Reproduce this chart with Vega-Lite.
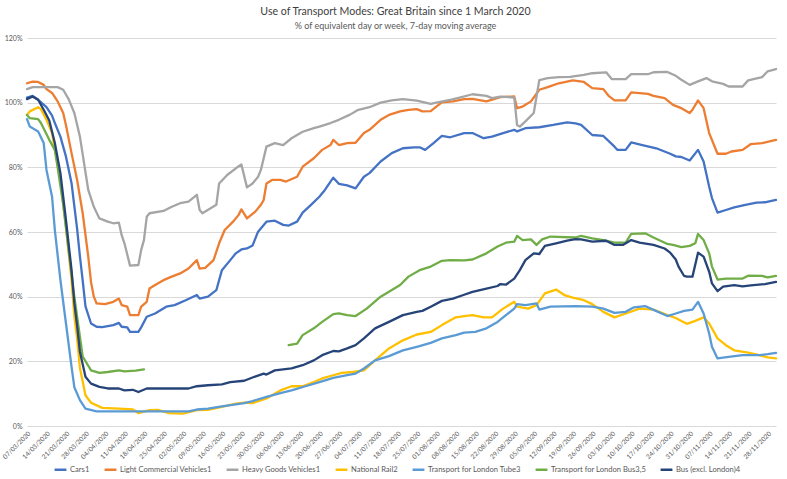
{
"$schema":"https://vega.github.io/schema/vega-lite/v6.json",
"width":749,"height":388,
"autosize":{"type":"none"},
"padding":{"left":27,"top":38,"right":11,"bottom":53},
"background":"white",
"title":{"text":"Use of  Transport Modes: Great Britain since 1 March 2020","subtitle":"% of equivalent day or week, 7-day moving average","anchor":"middle","font":"Lato","fontSize":10.6,"fontWeight":"normal","color":"#404040","subtitleFont":"Lato","subtitleFontSize":9,"subtitleColor":"#595959","subtitlePadding":4,"offset":3,"dx":-6},
"config":{"view":{"stroke":null}},
"data":{"values":[
{"mode":"Cars1","date":"2020-03-07","pct":101.6},{"mode":"Cars1","date":"2020-03-09","pct":102.1},{"mode":"Cars1","date":"2020-03-11","pct":100.9},{"mode":"Cars1","date":"2020-03-14","pct":98.6},{"mode":"Cars1","date":"2020-03-16","pct":96},{"mode":"Cars1","date":"2020-03-17","pct":93.7},{"mode":"Cars1","date":"2020-03-19","pct":89.5},{"mode":"Cars1","date":"2020-03-21","pct":83.3},{"mode":"Cars1","date":"2020-03-23","pct":75.1},{"mode":"Cars1","date":"2020-03-24","pct":68},{"mode":"Cars1","date":"2020-03-25","pct":61},{"mode":"Cars1","date":"2020-03-26","pct":52.5},{"mode":"Cars1","date":"2020-03-27","pct":45},{"mode":"Cars1","date":"2020-03-28","pct":37},{"mode":"Cars1","date":"2020-03-30","pct":31.7},{"mode":"Cars1","date":"2020-04-01","pct":30.7},{"mode":"Cars1","date":"2020-04-03","pct":30.6},{"mode":"Cars1","date":"2020-04-07","pct":31.2},{"mode":"Cars1","date":"2020-04-09","pct":31.9},{"mode":"Cars1","date":"2020-04-10","pct":30.7},{"mode":"Cars1","date":"2020-04-12","pct":30.5},{"mode":"Cars1","date":"2020-04-13","pct":29.1},{"mode":"Cars1","date":"2020-04-16","pct":29.1},{"mode":"Cars1","date":"2020-04-17","pct":30.5},{"mode":"Cars1","date":"2020-04-19","pct":33.8},{"mode":"Cars1","date":"2020-04-22","pct":34.8},{"mode":"Cars1","date":"2020-04-26","pct":36.9},{"mode":"Cars1","date":"2020-04-29","pct":37.4},{"mode":"Cars1","date":"2020-05-03","pct":38.9},{"mode":"Cars1","date":"2020-05-07","pct":40.5},{"mode":"Cars1","date":"2020-05-08","pct":39.4},{"mode":"Cars1","date":"2020-05-11","pct":40},{"mode":"Cars1","date":"2020-05-14","pct":42},{"mode":"Cars1","date":"2020-05-16","pct":48.2},{"mode":"Cars1","date":"2020-05-19","pct":51.3},{"mode":"Cars1","date":"2020-05-21","pct":53.4},{"mode":"Cars1","date":"2020-05-23","pct":54.6},{"mode":"Cars1","date":"2020-05-25","pct":54.9},{"mode":"Cars1","date":"2020-05-27","pct":55.8},{"mode":"Cars1","date":"2020-05-29","pct":60.1},{"mode":"Cars1","date":"2020-06-01","pct":63.2},{"mode":"Cars1","date":"2020-06-04","pct":63.5},{"mode":"Cars1","date":"2020-06-07","pct":62.2},{"mode":"Cars1","date":"2020-06-09","pct":62},{"mode":"Cars1","date":"2020-06-12","pct":63.2},{"mode":"Cars1","date":"2020-06-14","pct":66},{"mode":"Cars1","date":"2020-06-17","pct":68.4},{"mode":"Cars1","date":"2020-06-20","pct":70.9},{"mode":"Cars1","date":"2020-06-22","pct":73},{"mode":"Cars1","date":"2020-06-24","pct":75.6},{"mode":"Cars1","date":"2020-06-25","pct":76.8},{"mode":"Cars1","date":"2020-06-27","pct":74.9},{"mode":"Cars1","date":"2020-06-30","pct":74.4},{"mode":"Cars1","date":"2020-07-03","pct":73.5},{"mode":"Cars1","date":"2020-07-06","pct":77.1},{"mode":"Cars1","date":"2020-07-08","pct":78.2},{"mode":"Cars1","date":"2020-07-12","pct":81.8},{"mode":"Cars1","date":"2020-07-16","pct":84.4},{"mode":"Cars1","date":"2020-07-20","pct":85.9},{"mode":"Cars1","date":"2020-07-24","pct":86.2},{"mode":"Cars1","date":"2020-07-26","pct":86.2},{"mode":"Cars1","date":"2020-07-28","pct":85.4},{"mode":"Cars1","date":"2020-07-31","pct":87.5},{"mode":"Cars1","date":"2020-08-03","pct":89.7},{"mode":"Cars1","date":"2020-08-06","pct":89.3},{"mode":"Cars1","date":"2020-08-11","pct":90.6},{"mode":"Cars1","date":"2020-08-14","pct":90.6},{"mode":"Cars1","date":"2020-08-18","pct":89},{"mode":"Cars1","date":"2020-08-21","pct":89.5},{"mode":"Cars1","date":"2020-08-25","pct":90.6},{"mode":"Cars1","date":"2020-08-29","pct":91.6},{"mode":"Cars1","date":"2020-08-30","pct":91.1},{"mode":"Cars1","date":"2020-09-02","pct":92.1},{"mode":"Cars1","date":"2020-09-07","pct":92.4},{"mode":"Cars1","date":"2020-09-12","pct":93.1},{"mode":"Cars1","date":"2020-09-17","pct":93.9},{"mode":"Cars1","date":"2020-09-20","pct":93.6},{"mode":"Cars1","date":"2020-09-22","pct":93.1},{"mode":"Cars1","date":"2020-09-26","pct":90},{"mode":"Cars1","date":"2020-09-30","pct":89.7},{"mode":"Cars1","date":"2020-10-04","pct":86.4},{"mode":"Cars1","date":"2020-10-05","pct":85.4},{"mode":"Cars1","date":"2020-10-08","pct":85.4},{"mode":"Cars1","date":"2020-10-10","pct":87.7},{"mode":"Cars1","date":"2020-10-14","pct":86.9},{"mode":"Cars1","date":"2020-10-19","pct":85.9},{"mode":"Cars1","date":"2020-10-24","pct":84.2},{"mode":"Cars1","date":"2020-10-26","pct":83.4},{"mode":"Cars1","date":"2020-10-28","pct":83.2},{"mode":"Cars1","date":"2020-10-31","pct":82.1},{"mode":"Cars1","date":"2020-11-03","pct":85.4},{"mode":"Cars1","date":"2020-11-05","pct":81.8},{"mode":"Cars1","date":"2020-11-07","pct":74},{"mode":"Cars1","date":"2020-11-08","pct":70.5},{"mode":"Cars1","date":"2020-11-10","pct":66},{"mode":"Cars1","date":"2020-11-13","pct":66.8},{"mode":"Cars1","date":"2020-11-16","pct":67.6},{"mode":"Cars1","date":"2020-11-20","pct":68.4},{"mode":"Cars1","date":"2020-11-24","pct":69.1},{"mode":"Cars1","date":"2020-11-27","pct":69.2},{"mode":"Cars1","date":"2020-12-01","pct":69.9},
{"mode":"Light Commercial Vehicles1","date":"2020-03-07","pct":106},{"mode":"Light Commercial Vehicles1","date":"2020-03-09","pct":106.5},{"mode":"Light Commercial Vehicles1","date":"2020-03-11","pct":106.4},{"mode":"Light Commercial Vehicles1","date":"2020-03-13","pct":105.5},{"mode":"Light Commercial Vehicles1","date":"2020-03-14","pct":104.2},{"mode":"Light Commercial Vehicles1","date":"2020-03-16","pct":103},{"mode":"Light Commercial Vehicles1","date":"2020-03-18","pct":100.4},{"mode":"Light Commercial Vehicles1","date":"2020-03-20","pct":96.8},{"mode":"Light Commercial Vehicles1","date":"2020-03-21","pct":93},{"mode":"Light Commercial Vehicles1","date":"2020-03-23","pct":84.4},{"mode":"Light Commercial Vehicles1","date":"2020-03-25","pct":76.1},{"mode":"Light Commercial Vehicles1","date":"2020-03-27","pct":65.8},{"mode":"Light Commercial Vehicles1","date":"2020-03-29","pct":52.4},{"mode":"Light Commercial Vehicles1","date":"2020-03-30","pct":44.5},{"mode":"Light Commercial Vehicles1","date":"2020-03-31","pct":40},{"mode":"Light Commercial Vehicles1","date":"2020-04-01","pct":37.9},{"mode":"Light Commercial Vehicles1","date":"2020-04-04","pct":37.7},{"mode":"Light Commercial Vehicles1","date":"2020-04-07","pct":38.4},{"mode":"Light Commercial Vehicles1","date":"2020-04-09","pct":39.4},{"mode":"Light Commercial Vehicles1","date":"2020-04-10","pct":37.4},{"mode":"Light Commercial Vehicles1","date":"2020-04-12","pct":36.9},{"mode":"Light Commercial Vehicles1","date":"2020-04-13","pct":34.3},{"mode":"Light Commercial Vehicles1","date":"2020-04-16","pct":34.3},{"mode":"Light Commercial Vehicles1","date":"2020-04-17","pct":36.9},{"mode":"Light Commercial Vehicles1","date":"2020-04-19","pct":38.4},{"mode":"Light Commercial Vehicles1","date":"2020-04-20","pct":42.5},{"mode":"Light Commercial Vehicles1","date":"2020-04-22","pct":43.6},{"mode":"Light Commercial Vehicles1","date":"2020-04-25","pct":45.1},{"mode":"Light Commercial Vehicles1","date":"2020-04-28","pct":46.2},{"mode":"Light Commercial Vehicles1","date":"2020-05-01","pct":47.2},{"mode":"Light Commercial Vehicles1","date":"2020-05-04","pct":48.7},{"mode":"Light Commercial Vehicles1","date":"2020-05-07","pct":51.3},{"mode":"Light Commercial Vehicles1","date":"2020-05-08","pct":48.7},{"mode":"Light Commercial Vehicles1","date":"2020-05-10","pct":48.9},{"mode":"Light Commercial Vehicles1","date":"2020-05-13","pct":51.3},{"mode":"Light Commercial Vehicles1","date":"2020-05-15","pct":56.5},{"mode":"Light Commercial Vehicles1","date":"2020-05-17","pct":60.6},{"mode":"Light Commercial Vehicles1","date":"2020-05-20","pct":63.2},{"mode":"Light Commercial Vehicles1","date":"2020-05-22","pct":65.3},{"mode":"Light Commercial Vehicles1","date":"2020-05-23","pct":67},{"mode":"Light Commercial Vehicles1","date":"2020-05-25","pct":64.2},{"mode":"Light Commercial Vehicles1","date":"2020-05-28","pct":66.3},{"mode":"Light Commercial Vehicles1","date":"2020-05-30","pct":68.4},{"mode":"Light Commercial Vehicles1","date":"2020-05-31","pct":69.9},{"mode":"Light Commercial Vehicles1","date":"2020-06-01","pct":75},{"mode":"Light Commercial Vehicles1","date":"2020-06-03","pct":76.1},{"mode":"Light Commercial Vehicles1","date":"2020-06-06","pct":76.1},{"mode":"Light Commercial Vehicles1","date":"2020-06-08","pct":75.6},{"mode":"Light Commercial Vehicles1","date":"2020-06-12","pct":77.1},{"mode":"Light Commercial Vehicles1","date":"2020-06-14","pct":80.2},{"mode":"Light Commercial Vehicles1","date":"2020-06-18","pct":82.8},{"mode":"Light Commercial Vehicles1","date":"2020-06-21","pct":85.4},{"mode":"Light Commercial Vehicles1","date":"2020-06-24","pct":86.9},{"mode":"Light Commercial Vehicles1","date":"2020-06-25","pct":88.5},{"mode":"Light Commercial Vehicles1","date":"2020-06-27","pct":86.9},{"mode":"Light Commercial Vehicles1","date":"2020-06-30","pct":87.5},{"mode":"Light Commercial Vehicles1","date":"2020-07-03","pct":87.6},{"mode":"Light Commercial Vehicles1","date":"2020-07-06","pct":90.6},{"mode":"Light Commercial Vehicles1","date":"2020-07-08","pct":91.6},{"mode":"Light Commercial Vehicles1","date":"2020-07-12","pct":94.7},{"mode":"Light Commercial Vehicles1","date":"2020-07-15","pct":96.2},{"mode":"Light Commercial Vehicles1","date":"2020-07-19","pct":97.3},{"mode":"Light Commercial Vehicles1","date":"2020-07-22","pct":97.8},{"mode":"Light Commercial Vehicles1","date":"2020-07-25","pct":98},{"mode":"Light Commercial Vehicles1","date":"2020-07-27","pct":97.3},{"mode":"Light Commercial Vehicles1","date":"2020-07-30","pct":97.4},{"mode":"Light Commercial Vehicles1","date":"2020-08-01","pct":98.8},{"mode":"Light Commercial Vehicles1","date":"2020-08-03","pct":100.1},{"mode":"Light Commercial Vehicles1","date":"2020-08-07","pct":100.4},{"mode":"Light Commercial Vehicles1","date":"2020-08-11","pct":101.1},{"mode":"Light Commercial Vehicles1","date":"2020-08-14","pct":101.2},{"mode":"Light Commercial Vehicles1","date":"2020-08-19","pct":100.4},{"mode":"Light Commercial Vehicles1","date":"2020-08-24","pct":101.7},{"mode":"Light Commercial Vehicles1","date":"2020-08-29","pct":101.9},{"mode":"Light Commercial Vehicles1","date":"2020-08-30","pct":98.3},{"mode":"Light Commercial Vehicles1","date":"2020-09-01","pct":98.8},{"mode":"Light Commercial Vehicles1","date":"2020-09-04","pct":100.4},{"mode":"Light Commercial Vehicles1","date":"2020-09-07","pct":104},{"mode":"Light Commercial Vehicles1","date":"2020-09-10","pct":104.8},{"mode":"Light Commercial Vehicles1","date":"2020-09-14","pct":106},{"mode":"Light Commercial Vehicles1","date":"2020-09-19","pct":106.9},{"mode":"Light Commercial Vehicles1","date":"2020-09-23","pct":106.4},{"mode":"Light Commercial Vehicles1","date":"2020-09-26","pct":104.5},{"mode":"Light Commercial Vehicles1","date":"2020-09-30","pct":104.2},{"mode":"Light Commercial Vehicles1","date":"2020-10-02","pct":102},{"mode":"Light Commercial Vehicles1","date":"2020-10-04","pct":100.7},{"mode":"Light Commercial Vehicles1","date":"2020-10-08","pct":100.7},{"mode":"Light Commercial Vehicles1","date":"2020-10-10","pct":103.2},{"mode":"Light Commercial Vehicles1","date":"2020-10-16","pct":102.7},{"mode":"Light Commercial Vehicles1","date":"2020-10-18","pct":102.1},{"mode":"Light Commercial Vehicles1","date":"2020-10-22","pct":101.4},{"mode":"Light Commercial Vehicles1","date":"2020-10-25","pct":99.3},{"mode":"Light Commercial Vehicles1","date":"2020-10-28","pct":98.3},{"mode":"Light Commercial Vehicles1","date":"2020-10-31","pct":96.8},{"mode":"Light Commercial Vehicles1","date":"2020-11-01","pct":97.8},{"mode":"Light Commercial Vehicles1","date":"2020-11-03","pct":100.7},{"mode":"Light Commercial Vehicles1","date":"2020-11-05","pct":98.3},{"mode":"Light Commercial Vehicles1","date":"2020-11-07","pct":90.6},{"mode":"Light Commercial Vehicles1","date":"2020-11-10","pct":84.2},{"mode":"Light Commercial Vehicles1","date":"2020-11-13","pct":84.2},{"mode":"Light Commercial Vehicles1","date":"2020-11-15","pct":84.9},{"mode":"Light Commercial Vehicles1","date":"2020-11-19","pct":85.4},{"mode":"Light Commercial Vehicles1","date":"2020-11-22","pct":87.2},{"mode":"Light Commercial Vehicles1","date":"2020-11-26","pct":87.5},{"mode":"Light Commercial Vehicles1","date":"2020-12-01","pct":88.5},
{"mode":"Heavy Goods Vehicles1","date":"2020-03-07","pct":104.2},{"mode":"Heavy Goods Vehicles1","date":"2020-03-09","pct":104.8},{"mode":"Heavy Goods Vehicles1","date":"2020-03-18","pct":104.8},{"mode":"Heavy Goods Vehicles1","date":"2020-03-20","pct":104},{"mode":"Heavy Goods Vehicles1","date":"2020-03-22","pct":101},{"mode":"Heavy Goods Vehicles1","date":"2020-03-24","pct":96.8},{"mode":"Heavy Goods Vehicles1","date":"2020-03-26","pct":89.5},{"mode":"Heavy Goods Vehicles1","date":"2020-03-27","pct":84},{"mode":"Heavy Goods Vehicles1","date":"2020-03-29","pct":73},{"mode":"Heavy Goods Vehicles1","date":"2020-03-31","pct":67.8},{"mode":"Heavy Goods Vehicles1","date":"2020-04-02","pct":64.2},{"mode":"Heavy Goods Vehicles1","date":"2020-04-05","pct":63.2},{"mode":"Heavy Goods Vehicles1","date":"2020-04-07","pct":62.7},{"mode":"Heavy Goods Vehicles1","date":"2020-04-09","pct":62.9},{"mode":"Heavy Goods Vehicles1","date":"2020-04-10","pct":59},{"mode":"Heavy Goods Vehicles1","date":"2020-04-11","pct":56.5},{"mode":"Heavy Goods Vehicles1","date":"2020-04-13","pct":49.6},{"mode":"Heavy Goods Vehicles1","date":"2020-04-16","pct":49.8},{"mode":"Heavy Goods Vehicles1","date":"2020-04-17","pct":54.4},{"mode":"Heavy Goods Vehicles1","date":"2020-04-18","pct":57.5},{"mode":"Heavy Goods Vehicles1","date":"2020-04-19","pct":64.7},{"mode":"Heavy Goods Vehicles1","date":"2020-04-20","pct":65.8},{"mode":"Heavy Goods Vehicles1","date":"2020-04-25","pct":66.5},{"mode":"Heavy Goods Vehicles1","date":"2020-04-28","pct":67.8},{"mode":"Heavy Goods Vehicles1","date":"2020-05-01","pct":68.9},{"mode":"Heavy Goods Vehicles1","date":"2020-05-04","pct":69.4},{"mode":"Heavy Goods Vehicles1","date":"2020-05-07","pct":71.5},{"mode":"Heavy Goods Vehicles1","date":"2020-05-08","pct":66.8},{"mode":"Heavy Goods Vehicles1","date":"2020-05-09","pct":65.8},{"mode":"Heavy Goods Vehicles1","date":"2020-05-14","pct":68.4},{"mode":"Heavy Goods Vehicles1","date":"2020-05-15","pct":75},{"mode":"Heavy Goods Vehicles1","date":"2020-05-18","pct":77.7},{"mode":"Heavy Goods Vehicles1","date":"2020-05-21","pct":79.7},{"mode":"Heavy Goods Vehicles1","date":"2020-05-23","pct":80.9},{"mode":"Heavy Goods Vehicles1","date":"2020-05-25","pct":73.8},{"mode":"Heavy Goods Vehicles1","date":"2020-05-27","pct":75},{"mode":"Heavy Goods Vehicles1","date":"2020-05-29","pct":77.1},{"mode":"Heavy Goods Vehicles1","date":"2020-05-30","pct":79.2},{"mode":"Heavy Goods Vehicles1","date":"2020-06-01","pct":86.4},{"mode":"Heavy Goods Vehicles1","date":"2020-06-04","pct":87.5},{"mode":"Heavy Goods Vehicles1","date":"2020-06-07","pct":86.9},{"mode":"Heavy Goods Vehicles1","date":"2020-06-10","pct":89},{"mode":"Heavy Goods Vehicles1","date":"2020-06-14","pct":91},{"mode":"Heavy Goods Vehicles1","date":"2020-06-18","pct":92.1},{"mode":"Heavy Goods Vehicles1","date":"2020-06-20","pct":92.6},{"mode":"Heavy Goods Vehicles1","date":"2020-06-24","pct":93.7},{"mode":"Heavy Goods Vehicles1","date":"2020-06-27","pct":94.7},{"mode":"Heavy Goods Vehicles1","date":"2020-07-01","pct":96.3},{"mode":"Heavy Goods Vehicles1","date":"2020-07-04","pct":97.8},{"mode":"Heavy Goods Vehicles1","date":"2020-07-08","pct":98.6},{"mode":"Heavy Goods Vehicles1","date":"2020-07-12","pct":100},{"mode":"Heavy Goods Vehicles1","date":"2020-07-16","pct":100.7},{"mode":"Heavy Goods Vehicles1","date":"2020-07-20","pct":101.1},{"mode":"Heavy Goods Vehicles1","date":"2020-07-25","pct":100.6},{"mode":"Heavy Goods Vehicles1","date":"2020-07-30","pct":99.6},{"mode":"Heavy Goods Vehicles1","date":"2020-08-01","pct":100},{"mode":"Heavy Goods Vehicles1","date":"2020-08-06","pct":100.9},{"mode":"Heavy Goods Vehicles1","date":"2020-08-09","pct":101.5},{"mode":"Heavy Goods Vehicles1","date":"2020-08-14","pct":102.6},{"mode":"Heavy Goods Vehicles1","date":"2020-08-19","pct":102.1},{"mode":"Heavy Goods Vehicles1","date":"2020-08-21","pct":101.4},{"mode":"Heavy Goods Vehicles1","date":"2020-08-24","pct":101.9},{"mode":"Heavy Goods Vehicles1","date":"2020-08-29","pct":101.6},{"mode":"Heavy Goods Vehicles1","date":"2020-08-30","pct":93.1},{"mode":"Heavy Goods Vehicles1","date":"2020-08-31","pct":92.6},{"mode":"Heavy Goods Vehicles1","date":"2020-09-02","pct":94.2},{"mode":"Heavy Goods Vehicles1","date":"2020-09-05","pct":96.8},{"mode":"Heavy Goods Vehicles1","date":"2020-09-06","pct":101.9},{"mode":"Heavy Goods Vehicles1","date":"2020-09-07","pct":107},{"mode":"Heavy Goods Vehicles1","date":"2020-09-10","pct":107.6},{"mode":"Heavy Goods Vehicles1","date":"2020-09-14","pct":107.9},{"mode":"Heavy Goods Vehicles1","date":"2020-09-18","pct":108},{"mode":"Heavy Goods Vehicles1","date":"2020-09-23","pct":108.6},{"mode":"Heavy Goods Vehicles1","date":"2020-09-26","pct":109.1},{"mode":"Heavy Goods Vehicles1","date":"2020-10-01","pct":109.4},{"mode":"Heavy Goods Vehicles1","date":"2020-10-03","pct":107.3},{"mode":"Heavy Goods Vehicles1","date":"2020-10-08","pct":107.3},{"mode":"Heavy Goods Vehicles1","date":"2020-10-10","pct":108.8},{"mode":"Heavy Goods Vehicles1","date":"2020-10-16","pct":108.8},{"mode":"Heavy Goods Vehicles1","date":"2020-10-18","pct":109.4},{"mode":"Heavy Goods Vehicles1","date":"2020-10-23","pct":109.5},{"mode":"Heavy Goods Vehicles1","date":"2020-10-26","pct":108.3},{"mode":"Heavy Goods Vehicles1","date":"2020-10-28","pct":107.1},{"mode":"Heavy Goods Vehicles1","date":"2020-10-31","pct":105.5},{"mode":"Heavy Goods Vehicles1","date":"2020-11-03","pct":106.6},{"mode":"Heavy Goods Vehicles1","date":"2020-11-06","pct":107.6},{"mode":"Heavy Goods Vehicles1","date":"2020-11-08","pct":106.6},{"mode":"Heavy Goods Vehicles1","date":"2020-11-12","pct":105.8},{"mode":"Heavy Goods Vehicles1","date":"2020-11-14","pct":105},{"mode":"Heavy Goods Vehicles1","date":"2020-11-19","pct":105},{"mode":"Heavy Goods Vehicles1","date":"2020-11-21","pct":106.9},{"mode":"Heavy Goods Vehicles1","date":"2020-11-26","pct":107.9},{"mode":"Heavy Goods Vehicles1","date":"2020-11-28","pct":109.7},{"mode":"Heavy Goods Vehicles1","date":"2020-12-01","pct":110.4},
{"mode":"National Rail2","date":"2020-03-07","pct":96.2},{"mode":"National Rail2","date":"2020-03-08","pct":97.3},{"mode":"National Rail2","date":"2020-03-11","pct":98.6},{"mode":"National Rail2","date":"2020-03-12","pct":98},{"mode":"National Rail2","date":"2020-03-14","pct":94.7},{"mode":"National Rail2","date":"2020-03-16","pct":90.6},{"mode":"National Rail2","date":"2020-03-17","pct":85.4},{"mode":"National Rail2","date":"2020-03-19","pct":76.1},{"mode":"National Rail2","date":"2020-03-21","pct":61.6},{"mode":"National Rail2","date":"2020-03-23","pct":45.1},{"mode":"National Rail2","date":"2020-03-24","pct":34},{"mode":"National Rail2","date":"2020-03-25","pct":27},{"mode":"National Rail2","date":"2020-03-26","pct":18},{"mode":"National Rail2","date":"2020-03-28","pct":9.5},{"mode":"National Rail2","date":"2020-03-30","pct":7.2},{"mode":"National Rail2","date":"2020-04-03","pct":5.6},{"mode":"National Rail2","date":"2020-04-09","pct":5.4},{"mode":"National Rail2","date":"2020-04-14","pct":5.1},{"mode":"National Rail2","date":"2020-04-16","pct":4},{"mode":"National Rail2","date":"2020-04-20","pct":4.9},{"mode":"National Rail2","date":"2020-04-23","pct":5},{"mode":"National Rail2","date":"2020-04-27","pct":4},{"mode":"National Rail2","date":"2020-05-02","pct":3.8},{"mode":"National Rail2","date":"2020-05-07","pct":4.9},{"mode":"National Rail2","date":"2020-05-11","pct":5},{"mode":"National Rail2","date":"2020-05-16","pct":5.9},{"mode":"National Rail2","date":"2020-05-21","pct":6.9},{"mode":"National Rail2","date":"2020-05-24","pct":7.2},{"mode":"National Rail2","date":"2020-05-27","pct":7.1},{"mode":"National Rail2","date":"2020-06-01","pct":8.5},{"mode":"National Rail2","date":"2020-06-06","pct":11},{"mode":"National Rail2","date":"2020-06-10","pct":12.3},{"mode":"National Rail2","date":"2020-06-14","pct":12.3},{"mode":"National Rail2","date":"2020-06-18","pct":13.6},{"mode":"National Rail2","date":"2020-06-21","pct":14.7},{"mode":"National Rail2","date":"2020-06-25","pct":15.7},{"mode":"National Rail2","date":"2020-06-28","pct":16.4},{"mode":"National Rail2","date":"2020-07-02","pct":16.7},{"mode":"National Rail2","date":"2020-07-06","pct":17.2},{"mode":"National Rail2","date":"2020-07-10","pct":20.3},{"mode":"National Rail2","date":"2020-07-15","pct":24},{"mode":"National Rail2","date":"2020-07-20","pct":26.5},{"mode":"National Rail2","date":"2020-07-25","pct":28.3},{"mode":"National Rail2","date":"2020-07-30","pct":29.1},{"mode":"National Rail2","date":"2020-08-03","pct":31.2},{"mode":"National Rail2","date":"2020-08-08","pct":33.6},{"mode":"National Rail2","date":"2020-08-11","pct":34},{"mode":"National Rail2","date":"2020-08-14","pct":34.3},{"mode":"National Rail2","date":"2020-08-18","pct":33.6},{"mode":"National Rail2","date":"2020-08-21","pct":33.6},{"mode":"National Rail2","date":"2020-08-25","pct":36.3},{"mode":"National Rail2","date":"2020-08-29","pct":38.4},{"mode":"National Rail2","date":"2020-08-30","pct":36.9},{"mode":"National Rail2","date":"2020-09-03","pct":36.3},{"mode":"National Rail2","date":"2020-09-06","pct":37.4},{"mode":"National Rail2","date":"2020-09-09","pct":41},{"mode":"National Rail2","date":"2020-09-13","pct":42.2},{"mode":"National Rail2","date":"2020-09-16","pct":40.5},{"mode":"National Rail2","date":"2020-09-19","pct":39.7},{"mode":"National Rail2","date":"2020-09-23","pct":38.9},{"mode":"National Rail2","date":"2020-09-26","pct":37.7},{"mode":"National Rail2","date":"2020-09-30","pct":35.3},{"mode":"National Rail2","date":"2020-10-04","pct":33.6},{"mode":"National Rail2","date":"2020-10-08","pct":34.8},{"mode":"National Rail2","date":"2020-10-13","pct":36.3},{"mode":"National Rail2","date":"2020-10-18","pct":36},{"mode":"National Rail2","date":"2020-10-23","pct":34.3},{"mode":"National Rail2","date":"2020-10-26","pct":33.4},{"mode":"National Rail2","date":"2020-10-28","pct":32.5},{"mode":"National Rail2","date":"2020-10-30","pct":31.6},{"mode":"National Rail2","date":"2020-11-02","pct":32.5},{"mode":"National Rail2","date":"2020-11-05","pct":33.6},{"mode":"National Rail2","date":"2020-11-07","pct":31.7},{"mode":"National Rail2","date":"2020-11-10","pct":27.1},{"mode":"National Rail2","date":"2020-11-13","pct":25},{"mode":"National Rail2","date":"2020-11-16","pct":23.4},{"mode":"National Rail2","date":"2020-11-21","pct":22.7},{"mode":"National Rail2","date":"2020-11-25","pct":21.9},{"mode":"National Rail2","date":"2020-11-28","pct":21.2},{"mode":"National Rail2","date":"2020-12-01","pct":20.9},
{"mode":"Transport for London Tube3","date":"2020-03-07","pct":94.9},{"mode":"Transport for London Tube3","date":"2020-03-08","pct":92.6},{"mode":"Transport for London Tube3","date":"2020-03-11","pct":91.1},{"mode":"Transport for London Tube3","date":"2020-03-13","pct":87.5},{"mode":"Transport for London Tube3","date":"2020-03-14","pct":79.2},{"mode":"Transport for London Tube3","date":"2020-03-16","pct":70.9},{"mode":"Transport for London Tube3","date":"2020-03-17","pct":60.6},{"mode":"Transport for London Tube3","date":"2020-03-19","pct":45.1},{"mode":"Transport for London Tube3","date":"2020-03-21","pct":31.7},{"mode":"Transport for London Tube3","date":"2020-03-23","pct":18.3},{"mode":"Transport for London Tube3","date":"2020-03-24","pct":12},{"mode":"Transport for London Tube3","date":"2020-03-26","pct":8},{"mode":"Transport for London Tube3","date":"2020-03-28","pct":5.4},{"mode":"Transport for London Tube3","date":"2020-04-01","pct":4.5},{"mode":"Transport for London Tube3","date":"2020-05-04","pct":4.5},{"mode":"Transport for London Tube3","date":"2020-05-07","pct":5.1},{"mode":"Transport for London Tube3","date":"2020-05-11","pct":5.4},{"mode":"Transport for London Tube3","date":"2020-05-16","pct":6.1},{"mode":"Transport for London Tube3","date":"2020-05-21","pct":6.7},{"mode":"Transport for London Tube3","date":"2020-05-24","pct":7.1},{"mode":"Transport for London Tube3","date":"2020-05-27","pct":7.7},{"mode":"Transport for London Tube3","date":"2020-06-01","pct":9},{"mode":"Transport for London Tube3","date":"2020-06-06","pct":10.2},{"mode":"Transport for London Tube3","date":"2020-06-10","pct":11},{"mode":"Transport for London Tube3","date":"2020-06-15","pct":12.3},{"mode":"Transport for London Tube3","date":"2020-06-20","pct":13.6},{"mode":"Transport for London Tube3","date":"2020-06-25","pct":14.9},{"mode":"Transport for London Tube3","date":"2020-06-30","pct":15.7},{"mode":"Transport for London Tube3","date":"2020-07-03","pct":16.2},{"mode":"Transport for London Tube3","date":"2020-07-06","pct":17.8},{"mode":"Transport for London Tube3","date":"2020-07-10","pct":20.3},{"mode":"Transport for London Tube3","date":"2020-07-15","pct":21.6},{"mode":"Transport for London Tube3","date":"2020-07-20","pct":23.4},{"mode":"Transport for London Tube3","date":"2020-07-25","pct":24.5},{"mode":"Transport for London Tube3","date":"2020-07-30","pct":25.7},{"mode":"Transport for London Tube3","date":"2020-08-03","pct":27.1},{"mode":"Transport for London Tube3","date":"2020-08-08","pct":28.1},{"mode":"Transport for London Tube3","date":"2020-08-11","pct":28.9},{"mode":"Transport for London Tube3","date":"2020-08-15","pct":29.1},{"mode":"Transport for London Tube3","date":"2020-08-19","pct":30.2},{"mode":"Transport for London Tube3","date":"2020-08-23","pct":32.2},{"mode":"Transport for London Tube3","date":"2020-08-26","pct":34.3},{"mode":"Transport for London Tube3","date":"2020-08-29","pct":36.3},{"mode":"Transport for London Tube3","date":"2020-08-30","pct":37.7},{"mode":"Transport for London Tube3","date":"2020-09-02","pct":37.4},{"mode":"Transport for London Tube3","date":"2020-09-06","pct":37.9},{"mode":"Transport for London Tube3","date":"2020-09-07","pct":36},{"mode":"Transport for London Tube3","date":"2020-09-11","pct":36.9},{"mode":"Transport for London Tube3","date":"2020-09-20","pct":37.1},{"mode":"Transport for London Tube3","date":"2020-09-26","pct":36.9},{"mode":"Transport for London Tube3","date":"2020-09-30","pct":36.3},{"mode":"Transport for London Tube3","date":"2020-10-04","pct":35},{"mode":"Transport for London Tube3","date":"2020-10-08","pct":35.3},{"mode":"Transport for London Tube3","date":"2020-10-11","pct":36.7},{"mode":"Transport for London Tube3","date":"2020-10-15","pct":37.1},{"mode":"Transport for London Tube3","date":"2020-10-17","pct":36.3},{"mode":"Transport for London Tube3","date":"2020-10-23","pct":34},{"mode":"Transport for London Tube3","date":"2020-10-26","pct":34.8},{"mode":"Transport for London Tube3","date":"2020-10-29","pct":35.6},{"mode":"Transport for London Tube3","date":"2020-11-01","pct":36},{"mode":"Transport for London Tube3","date":"2020-11-03","pct":38.4},{"mode":"Transport for London Tube3","date":"2020-11-05","pct":34.8},{"mode":"Transport for London Tube3","date":"2020-11-07","pct":28.6},{"mode":"Transport for London Tube3","date":"2020-11-08","pct":24.5},{"mode":"Transport for London Tube3","date":"2020-11-10","pct":20.9},{"mode":"Transport for London Tube3","date":"2020-11-14","pct":21.4},{"mode":"Transport for London Tube3","date":"2020-11-19","pct":21.9},{"mode":"Transport for London Tube3","date":"2020-11-25","pct":21.9},{"mode":"Transport for London Tube3","date":"2020-11-28","pct":22.2},{"mode":"Transport for London Tube3","date":"2020-12-01","pct":22.6},
{"mode":"Transport for London Bus3,5","date":"2020-03-07","pct":96.2},{"mode":"Transport for London Bus3,5","date":"2020-03-08","pct":95.2},{"mode":"Transport for London Bus3,5","date":"2020-03-11","pct":94.9},{"mode":"Transport for London Bus3,5","date":"2020-03-12","pct":93.7},{"mode":"Transport for London Bus3,5","date":"2020-03-15","pct":88.5},{"mode":"Transport for London Bus3,5","date":"2020-03-17","pct":85.4},{"mode":"Transport for London Bus3,5","date":"2020-03-18","pct":80},{"mode":"Transport for London Bus3,5","date":"2020-03-20","pct":68.5},{"mode":"Transport for London Bus3,5","date":"2020-03-22","pct":54},{"mode":"Transport for London Bus3,5","date":"2020-03-24","pct":40},{"mode":"Transport for London Bus3,5","date":"2020-03-26","pct":27.6},{"mode":"Transport for London Bus3,5","date":"2020-03-27","pct":21.5},{"mode":"Transport for London Bus3,5","date":"2020-03-30","pct":17.2},{"mode":"Transport for London Bus3,5","date":"2020-04-02","pct":16.4},{"mode":"Transport for London Bus3,5","date":"2020-04-05","pct":16.7},{"mode":"Transport for London Bus3,5","date":"2020-04-09","pct":17.2},{"mode":"Transport for London Bus3,5","date":"2020-04-11","pct":16.9},{"mode":"Transport for London Bus3,5","date":"2020-04-15","pct":17.1},{"mode":"Transport for London Bus3,5","date":"2020-04-18","pct":17.5},{"mode":"Transport for London Bus3,5","date":"2020-05-15","pct":null},{"mode":"Transport for London Bus3,5","date":"2020-06-09","pct":25},{"mode":"Transport for London Bus3,5","date":"2020-06-12","pct":25.5},{"mode":"Transport for London Bus3,5","date":"2020-06-14","pct":28.1},{"mode":"Transport for London Bus3,5","date":"2020-06-18","pct":30.2},{"mode":"Transport for London Bus3,5","date":"2020-06-21","pct":32.2},{"mode":"Transport for London Bus3,5","date":"2020-06-25","pct":34.6},{"mode":"Transport for London Bus3,5","date":"2020-06-27","pct":34.8},{"mode":"Transport for London Bus3,5","date":"2020-06-30","pct":34.3},{"mode":"Transport for London Bus3,5","date":"2020-07-03","pct":34},{"mode":"Transport for London Bus3,5","date":"2020-07-07","pct":36.3},{"mode":"Transport for London Bus3,5","date":"2020-07-12","pct":40},{"mode":"Transport for London Bus3,5","date":"2020-07-15","pct":41.5},{"mode":"Transport for London Bus3,5","date":"2020-07-19","pct":43.6},{"mode":"Transport for London Bus3,5","date":"2020-07-22","pct":46.2},{"mode":"Transport for London Bus3,5","date":"2020-07-26","pct":48.2},{"mode":"Transport for London Bus3,5","date":"2020-07-30","pct":49.3},{"mode":"Transport for London Bus3,5","date":"2020-08-03","pct":51.1},{"mode":"Transport for London Bus3,5","date":"2020-08-06","pct":51.3},{"mode":"Transport for London Bus3,5","date":"2020-08-11","pct":51.2},{"mode":"Transport for London Bus3,5","date":"2020-08-14","pct":51.5},{"mode":"Transport for London Bus3,5","date":"2020-08-19","pct":53.4},{"mode":"Transport for London Bus3,5","date":"2020-08-23","pct":55.5},{"mode":"Transport for London Bus3,5","date":"2020-08-26","pct":56.7},{"mode":"Transport for London Bus3,5","date":"2020-08-29","pct":57},{"mode":"Transport for London Bus3,5","date":"2020-08-30","pct":58.8},{"mode":"Transport for London Bus3,5","date":"2020-09-01","pct":57.5},{"mode":"Transport for London Bus3,5","date":"2020-09-04","pct":57.7},{"mode":"Transport for London Bus3,5","date":"2020-09-06","pct":56},{"mode":"Transport for London Bus3,5","date":"2020-09-08","pct":57.7},{"mode":"Transport for London Bus3,5","date":"2020-09-11","pct":58.6},{"mode":"Transport for London Bus3,5","date":"2020-09-20","pct":58.3},{"mode":"Transport for London Bus3,5","date":"2020-09-22","pct":58.8},{"mode":"Transport for London Bus3,5","date":"2020-09-26","pct":58},{"mode":"Transport for London Bus3,5","date":"2020-09-30","pct":57.5},{"mode":"Transport for London Bus3,5","date":"2020-10-04","pct":56.7},{"mode":"Transport for London Bus3,5","date":"2020-10-08","pct":56.7},{"mode":"Transport for London Bus3,5","date":"2020-10-10","pct":59.4},{"mode":"Transport for London Bus3,5","date":"2020-10-15","pct":59.6},{"mode":"Transport for London Bus3,5","date":"2020-10-18","pct":58.3},{"mode":"Transport for London Bus3,5","date":"2020-10-23","pct":56.3},{"mode":"Transport for London Bus3,5","date":"2020-10-25","pct":56},{"mode":"Transport for London Bus3,5","date":"2020-10-28","pct":55.3},{"mode":"Transport for London Bus3,5","date":"2020-10-31","pct":55.7},{"mode":"Transport for London Bus3,5","date":"2020-11-02","pct":56.5},{"mode":"Transport for London Bus3,5","date":"2020-11-03","pct":59.4},{"mode":"Transport for London Bus3,5","date":"2020-11-05","pct":57.5},{"mode":"Transport for London Bus3,5","date":"2020-11-07","pct":53.4},{"mode":"Transport for London Bus3,5","date":"2020-11-08","pct":49.3},{"mode":"Transport for London Bus3,5","date":"2020-11-10","pct":45.3},{"mode":"Transport for London Bus3,5","date":"2020-11-13","pct":45.6},{"mode":"Transport for London Bus3,5","date":"2020-11-19","pct":45.6},{"mode":"Transport for London Bus3,5","date":"2020-11-21","pct":46.5},{"mode":"Transport for London Bus3,5","date":"2020-11-26","pct":46.4},{"mode":"Transport for London Bus3,5","date":"2020-11-28","pct":46},{"mode":"Transport for London Bus3,5","date":"2020-12-01","pct":46.4},
{"mode":"Bus (excl. London)4","date":"2020-03-07","pct":101.1},{"mode":"Bus (excl. London)4","date":"2020-03-09","pct":101.9},{"mode":"Bus (excl. London)4","date":"2020-03-11","pct":100.9},{"mode":"Bus (excl. London)4","date":"2020-03-13","pct":97.8},{"mode":"Bus (excl. London)4","date":"2020-03-15","pct":94.5},{"mode":"Bus (excl. London)4","date":"2020-03-17","pct":87.5},{"mode":"Bus (excl. London)4","date":"2020-03-19","pct":78.2},{"mode":"Bus (excl. London)4","date":"2020-03-21","pct":63.7},{"mode":"Bus (excl. London)4","date":"2020-03-23","pct":48.2},{"mode":"Bus (excl. London)4","date":"2020-03-24","pct":38},{"mode":"Bus (excl. London)4","date":"2020-03-25","pct":31},{"mode":"Bus (excl. London)4","date":"2020-03-26","pct":23},{"mode":"Bus (excl. London)4","date":"2020-03-28","pct":15.2},{"mode":"Bus (excl. London)4","date":"2020-03-30","pct":13.1},{"mode":"Bus (excl. London)4","date":"2020-04-02","pct":12.1},{"mode":"Bus (excl. London)4","date":"2020-04-05","pct":11.6},{"mode":"Bus (excl. London)4","date":"2020-04-09","pct":11.6},{"mode":"Bus (excl. London)4","date":"2020-04-11","pct":11},{"mode":"Bus (excl. London)4","date":"2020-04-14","pct":11.2},{"mode":"Bus (excl. London)4","date":"2020-04-16","pct":10.5},{"mode":"Bus (excl. London)4","date":"2020-04-19","pct":11.6},{"mode":"Bus (excl. London)4","date":"2020-04-25","pct":11.6},{"mode":"Bus (excl. London)4","date":"2020-05-04","pct":11.6},{"mode":"Bus (excl. London)4","date":"2020-05-07","pct":12.3},{"mode":"Bus (excl. London)4","date":"2020-05-11","pct":12.6},{"mode":"Bus (excl. London)4","date":"2020-05-16","pct":12.9},{"mode":"Bus (excl. London)4","date":"2020-05-19","pct":13.6},{"mode":"Bus (excl. London)4","date":"2020-05-24","pct":14},{"mode":"Bus (excl. London)4","date":"2020-05-27","pct":15},{"mode":"Bus (excl. London)4","date":"2020-05-31","pct":16.2},{"mode":"Bus (excl. London)4","date":"2020-06-01","pct":15.9},{"mode":"Bus (excl. London)4","date":"2020-06-04","pct":17.2},{"mode":"Bus (excl. London)4","date":"2020-06-10","pct":17.8},{"mode":"Bus (excl. London)4","date":"2020-06-14","pct":18.8},{"mode":"Bus (excl. London)4","date":"2020-06-18","pct":20.3},{"mode":"Bus (excl. London)4","date":"2020-06-21","pct":21.9},{"mode":"Bus (excl. London)4","date":"2020-06-25","pct":23.2},{"mode":"Bus (excl. London)4","date":"2020-06-27","pct":23.1},{"mode":"Bus (excl. London)4","date":"2020-06-30","pct":24},{"mode":"Bus (excl. London)4","date":"2020-07-03","pct":25},{"mode":"Bus (excl. London)4","date":"2020-07-06","pct":27.1},{"mode":"Bus (excl. London)4","date":"2020-07-10","pct":30.2},{"mode":"Bus (excl. London)4","date":"2020-07-15","pct":32.2},{"mode":"Bus (excl. London)4","date":"2020-07-20","pct":34.3},{"mode":"Bus (excl. London)4","date":"2020-07-25","pct":35.3},{"mode":"Bus (excl. London)4","date":"2020-07-27","pct":35.6},{"mode":"Bus (excl. London)4","date":"2020-07-30","pct":36.9},{"mode":"Bus (excl. London)4","date":"2020-08-03","pct":38.7},{"mode":"Bus (excl. London)4","date":"2020-08-07","pct":39.4},{"mode":"Bus (excl. London)4","date":"2020-08-11","pct":40.6},{"mode":"Bus (excl. London)4","date":"2020-08-14","pct":41.5},{"mode":"Bus (excl. London)4","date":"2020-08-19","pct":42.5},{"mode":"Bus (excl. London)4","date":"2020-08-23","pct":43.3},{"mode":"Bus (excl. London)4","date":"2020-08-24","pct":43.9},{"mode":"Bus (excl. London)4","date":"2020-08-26","pct":43.7},{"mode":"Bus (excl. London)4","date":"2020-08-29","pct":45.6},{"mode":"Bus (excl. London)4","date":"2020-08-31","pct":48.2},{"mode":"Bus (excl. London)4","date":"2020-09-02","pct":51.3},{"mode":"Bus (excl. London)4","date":"2020-09-05","pct":53.4},{"mode":"Bus (excl. London)4","date":"2020-09-07","pct":53.2},{"mode":"Bus (excl. London)4","date":"2020-09-09","pct":55.7},{"mode":"Bus (excl. London)4","date":"2020-09-13","pct":56.5},{"mode":"Bus (excl. London)4","date":"2020-09-17","pct":57.3},{"mode":"Bus (excl. London)4","date":"2020-09-20","pct":57.8},{"mode":"Bus (excl. London)4","date":"2020-09-22","pct":57.7},{"mode":"Bus (excl. London)4","date":"2020-09-26","pct":57},{"mode":"Bus (excl. London)4","date":"2020-10-01","pct":57.3},{"mode":"Bus (excl. London)4","date":"2020-10-04","pct":56},{"mode":"Bus (excl. London)4","date":"2020-10-07","pct":56},{"mode":"Bus (excl. London)4","date":"2020-10-10","pct":57.5},{"mode":"Bus (excl. London)4","date":"2020-10-13","pct":56.7},{"mode":"Bus (excl. London)4","date":"2020-10-18","pct":56},{"mode":"Bus (excl. London)4","date":"2020-10-22","pct":54.9},{"mode":"Bus (excl. London)4","date":"2020-10-24","pct":53.6},{"mode":"Bus (excl. London)4","date":"2020-10-26","pct":51.5},{"mode":"Bus (excl. London)4","date":"2020-10-27","pct":49.3},{"mode":"Bus (excl. London)4","date":"2020-10-29","pct":46.4},{"mode":"Bus (excl. London)4","date":"2020-10-30","pct":46.2},{"mode":"Bus (excl. London)4","date":"2020-11-01","pct":46.2},{"mode":"Bus (excl. London)4","date":"2020-11-03","pct":53.6},{"mode":"Bus (excl. London)4","date":"2020-11-05","pct":52.4},{"mode":"Bus (excl. London)4","date":"2020-11-07","pct":47.7},{"mode":"Bus (excl. London)4","date":"2020-11-08","pct":44.1},{"mode":"Bus (excl. London)4","date":"2020-11-10","pct":41.7},{"mode":"Bus (excl. London)4","date":"2020-11-12","pct":43.1},{"mode":"Bus (excl. London)4","date":"2020-11-16","pct":43.6},{"mode":"Bus (excl. London)4","date":"2020-11-19","pct":43.2},{"mode":"Bus (excl. London)4","date":"2020-11-22","pct":43.5},{"mode":"Bus (excl. London)4","date":"2020-11-27","pct":43.9},{"mode":"Bus (excl. London)4","date":"2020-12-01","pct":44.6}
]},
"mark":{"type":"line","strokeWidth":2.3,"strokeJoin":"round","strokeCap":"round"},
"encoding":{
"x":{"field":"date","type":"temporal","scale":{"type":"utc","domain":[{"year":2020,"month":3,"date":7,"utc":true},{"year":2020,"month":12,"date":1,"utc":true}]},
"axis":{"title":null,"values":[{"year":2020,"month":3,"date":7,"utc":true},{"year":2020,"month":3,"date":14,"utc":true},{"year":2020,"month":3,"date":21,"utc":true},{"year":2020,"month":3,"date":28,"utc":true},{"year":2020,"month":4,"date":4,"utc":true},{"year":2020,"month":4,"date":11,"utc":true},{"year":2020,"month":4,"date":18,"utc":true},{"year":2020,"month":4,"date":25,"utc":true},{"year":2020,"month":5,"date":2,"utc":true},{"year":2020,"month":5,"date":9,"utc":true},{"year":2020,"month":5,"date":16,"utc":true},{"year":2020,"month":5,"date":23,"utc":true},{"year":2020,"month":5,"date":30,"utc":true},{"year":2020,"month":6,"date":6,"utc":true},{"year":2020,"month":6,"date":13,"utc":true},{"year":2020,"month":6,"date":20,"utc":true},{"year":2020,"month":6,"date":27,"utc":true},{"year":2020,"month":7,"date":4,"utc":true},{"year":2020,"month":7,"date":11,"utc":true},{"year":2020,"month":7,"date":18,"utc":true},{"year":2020,"month":7,"date":25,"utc":true},{"year":2020,"month":8,"date":1,"utc":true},{"year":2020,"month":8,"date":8,"utc":true},{"year":2020,"month":8,"date":15,"utc":true},{"year":2020,"month":8,"date":22,"utc":true},{"year":2020,"month":8,"date":29,"utc":true},{"year":2020,"month":9,"date":5,"utc":true},{"year":2020,"month":9,"date":12,"utc":true},{"year":2020,"month":9,"date":19,"utc":true},{"year":2020,"month":9,"date":26,"utc":true},{"year":2020,"month":10,"date":3,"utc":true},{"year":2020,"month":10,"date":10,"utc":true},{"year":2020,"month":10,"date":17,"utc":true},{"year":2020,"month":10,"date":24,"utc":true},{"year":2020,"month":10,"date":31,"utc":true},{"year":2020,"month":11,"date":7,"utc":true},{"year":2020,"month":11,"date":14,"utc":true},{"year":2020,"month":11,"date":21,"utc":true},{"year":2020,"month":11,"date":28,"utc":true}],
"labelExpr":"utcFormat(datum.value, '%d/%m/%Y')","labelAngle":-45,"labelFont":"Lato","labelFontSize":6.5,"labelColor":"#595959","ticks":false,"grid":false,"domain":false,"labelOverlap":false,"labelBound":false,"labelFlush":false,"labelPadding":4}},
"y":{"field":"pct","type":"quantitative","scale":{"domain":[0,120]},
"axis":{"title":null,"values":[0,20,40,60,80,100,120],"labelExpr":"datum.value + '%'","labelFont":"Lato","labelFontSize":7,"labelColor":"#595959","gridColor":"#D9D9D9","gridWidth":1,"domain":false,"ticks":false,"labelPadding":5}},
"color":{"field":"mode","type":"nominal","scale":{"domain":["Cars1","Light Commercial Vehicles1","Heavy Goods Vehicles1","National Rail2","Transport for London Tube3","Transport for London Bus3,5","Bus (excl. London)4"],"range":["#4472C4","#ED7D31","#A5A5A5","#FFC000","#5B9BD5","#70AD47","#264478"]},
"legend":{"title":null,"orient":"none","legendX":26,"legendY":424,"direction":"horizontal","columns":7,"symbolType":"stroke","symbolStrokeWidth":2.5,"symbolSize":140,"labelFont":"Lato","labelFontSize":7.6,"labelColor":"#595959","columnPadding":9,"labelOffset":2}}
}
}
